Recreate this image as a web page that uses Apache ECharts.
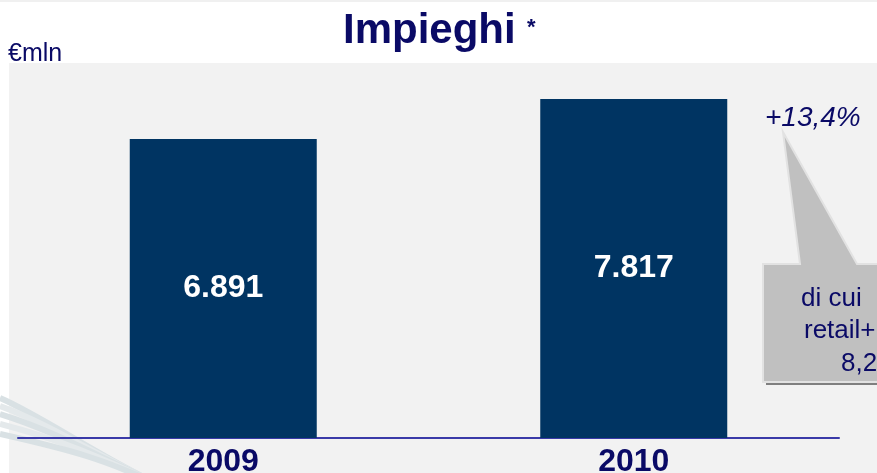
<!DOCTYPE html>
<html>
<head>
<meta charset="utf-8">
<script src="https://cdn.jsdelivr.net/npm/echarts@6/dist/echarts.min.js"></script>
<style>
  html, body { margin: 0; padding: 0; background: #fff; }
  #chart { width: 877px; height: 473px; }
</style>
</head>
<body>
<div id="chart"></div>
<script>
const years = ['2009', '2010'];
const impieghi = [6891, 7817];
const growthLabel = '+13,4%';
const calloutLines = ['di cui', 'retail+', '8,2'];

const navy = '#0a0a66';
const font = '"Liberation Sans", Arial, sans-serif';

// 6891 -> "6.891"
const fmt = v => String(v).replace(/\B(?=(\d{3})+(?!\d))/g, '.');

const chart = echarts.init(document.getElementById('chart'));

// faint swoosh bands bottom-left
const swoosh = [0, 8, 16, 26, 36].map((d, i) => ({
  type: 'bezierCurve',
  z: -5,
  silent: true,
  shape: { x1: 0, y1: 398 + d, x2: 160, y2: 485, cpx1: 40 + d, cpy1: 415 + d, cpx2: 105, cpy2: 460 },
  style: { stroke: i % 2 ? '#e4e9eb' : '#d9e1e4', lineWidth: 6, fill: null }
}));

chart.setOption({
  backgroundColor: '#ffffff',
  animation: false,
  grid: { left: 18, right: 38, top: 91, bottom: 35, outerBoundsMode: 'none' },
  xAxis: {
    type: 'category',
    data: years,
    axisLine: { lineStyle: { color: '#3a3aa8', width: 2 } },
    axisTick: { show: false },
    axisLabel: {
      color: navy, fontFamily: font, fontWeight: 'bold', fontSize: 32, margin: 8
    }
  },
  yAxis: {
    type: 'value', min: 0, max: 8000,
    show: false, splitLine: { show: false }
  },
  series: [{
    type: 'bar',
    data: impieghi,
    barWidth: 187,
    itemStyle: { color: '#003462' },
    label: {
      show: true, position: 'inside',
      color: '#ffffff', fontFamily: font, fontWeight: 'bold', fontSize: 32,
      formatter: p => fmt(p.value)
    }
  }],
  graphic: [
    { type: 'rect', z: -10, silent: true, shape: { x: 0, y: 0, width: 877, height: 2 }, style: { fill: '#f0f0f0' } },
    { type: 'rect', z: -10, silent: true, shape: { x: 9, y: 63, width: 868, height: 410 }, style: { fill: '#f2f2f2' } },
    ...swoosh,
    { type: 'text', left: 343, top: 10, style: { text: 'Impieghi', fill: navy, font: 'bold 42px ' + font } },
    { type: 'text', left: 527, top: 17, style: { text: '*', fill: navy, font: 'bold 22px ' + font } },
    { type: 'text', left: 8, top: 42, style: { text: '€mln', fill: navy, font: '25px ' + font } },
    { type: 'text', left: 765, top: 104, style: { text: growthLabel, fill: navy, font: 'italic 28px ' + font } },
    // callout shadow + box with pointer
    { type: 'polygon', silent: true,
      shape: { points: [[766, 267], [880, 267], [880, 385], [766, 385]] },
      style: { fill: '#7f7f7f' } },
    { type: 'polygon', silent: true,
      shape: { points: [[763, 264], [800, 264], [783, 132], [857, 264], [880, 264], [880, 382], [763, 382]] },
      style: { fill: '#c0c0c0', stroke: '#e2e2e2', lineWidth: 2 } },
    { type: 'text', left: 801, top: 286, style: { text: calloutLines[0], fill: navy, font: '26px ' + font } },
    { type: 'text', left: 804, top: 318, style: { text: calloutLines[1], fill: navy, font: '26px ' + font } },
    { type: 'text', left: 841, top: 351, style: { text: calloutLines[2], fill: navy, font: '26px ' + font } }
  ]
});
</script>
</body>
</html>
